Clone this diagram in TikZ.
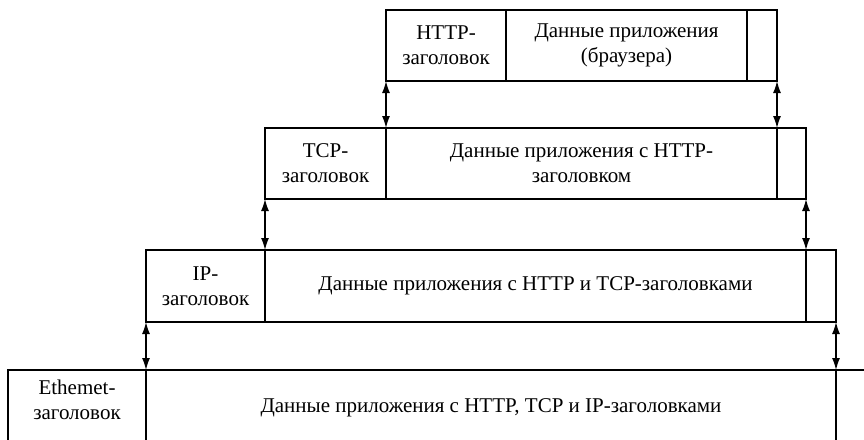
\documentclass[tikz,border=0pt]{standalone}
\usepackage{fontspec}
\setmainfont{Liberation Serif}
\usetikzlibrary{arrows.meta}

\begin{document}
\begin{tikzpicture}[x=1pt,y=-1pt,
    cell/.style={draw, rectangle, line width=1.3pt, anchor=north west, inner sep=0pt, outer sep=0pt, align=center, font=\fontsize{21}{25}\selectfont},
    link/.style={line width=1.3pt, {Latex[length=12pt,width=8pt]}-{Latex[length=12pt,width=8pt]}}]
    \useasboundingbox (0,0) rectangle (864,439);
    \clip (0,0) rectangle (864,439);

    % HTTP
    \node[cell, minimum width=120pt, minimum height=71pt] (h1) at (386,10) {HTTP-\\заголовок};
    \node[cell, minimum width=241pt, minimum height=71pt] (d1) at (506,10) {Данные приложения\\(браузера)};
    \node[cell, minimum width=30pt, minimum height=71pt] (t1) at (747,10) {};

    % TCP
    \node[cell, minimum width=121pt, minimum height=71pt] (h2) at (265,128) {TCP-\\заголовок};
    \node[cell, minimum width=391pt, minimum height=71pt] (d2) at (386,128) {Данные приложения с HTTP-\\заголовком};
    \node[cell, minimum width=29pt, minimum height=71pt] (t2) at (777,128) {};

    % IP
    \node[cell, minimum width=119pt, minimum height=72pt] (h3) at (146,250) {IP-\\заголовок};
    \node[cell, minimum width=541pt, minimum height=72pt] (d3) at (265,250) {Данные приложения с HTTP и TCP-заголовками};
    \node[cell, minimum width=30pt, minimum height=72pt] (t3) at (806,250) {};

    % Ethernet
    \node[cell, minimum width=138pt, minimum height=76pt, text depth=17pt] (h4) at (8,370) {Ethemet-\\заголовок};
    \node[cell, minimum width=690pt, minimum height=76pt] (d4) at (146,370) {Данные приложения с HTTP, TCP и IP-заголовками};
    \node[cell, minimum width=40pt, minimum height=76pt] (t4) at (836,370) {};

    \draw[link] (h1.south west) -- (d2.north west);
    \draw[link] (t1.south east) -- (t2.north west);
    \draw[link] (h2.south west) -- (d3.north west);
    \draw[link] (t2.south east) -- (t3.north west);
    \draw[link] (h3.south west) -- (d4.north west);
    \draw[link] (t3.south east) -- (t4.north west);
\end{tikzpicture}
\end{document}
